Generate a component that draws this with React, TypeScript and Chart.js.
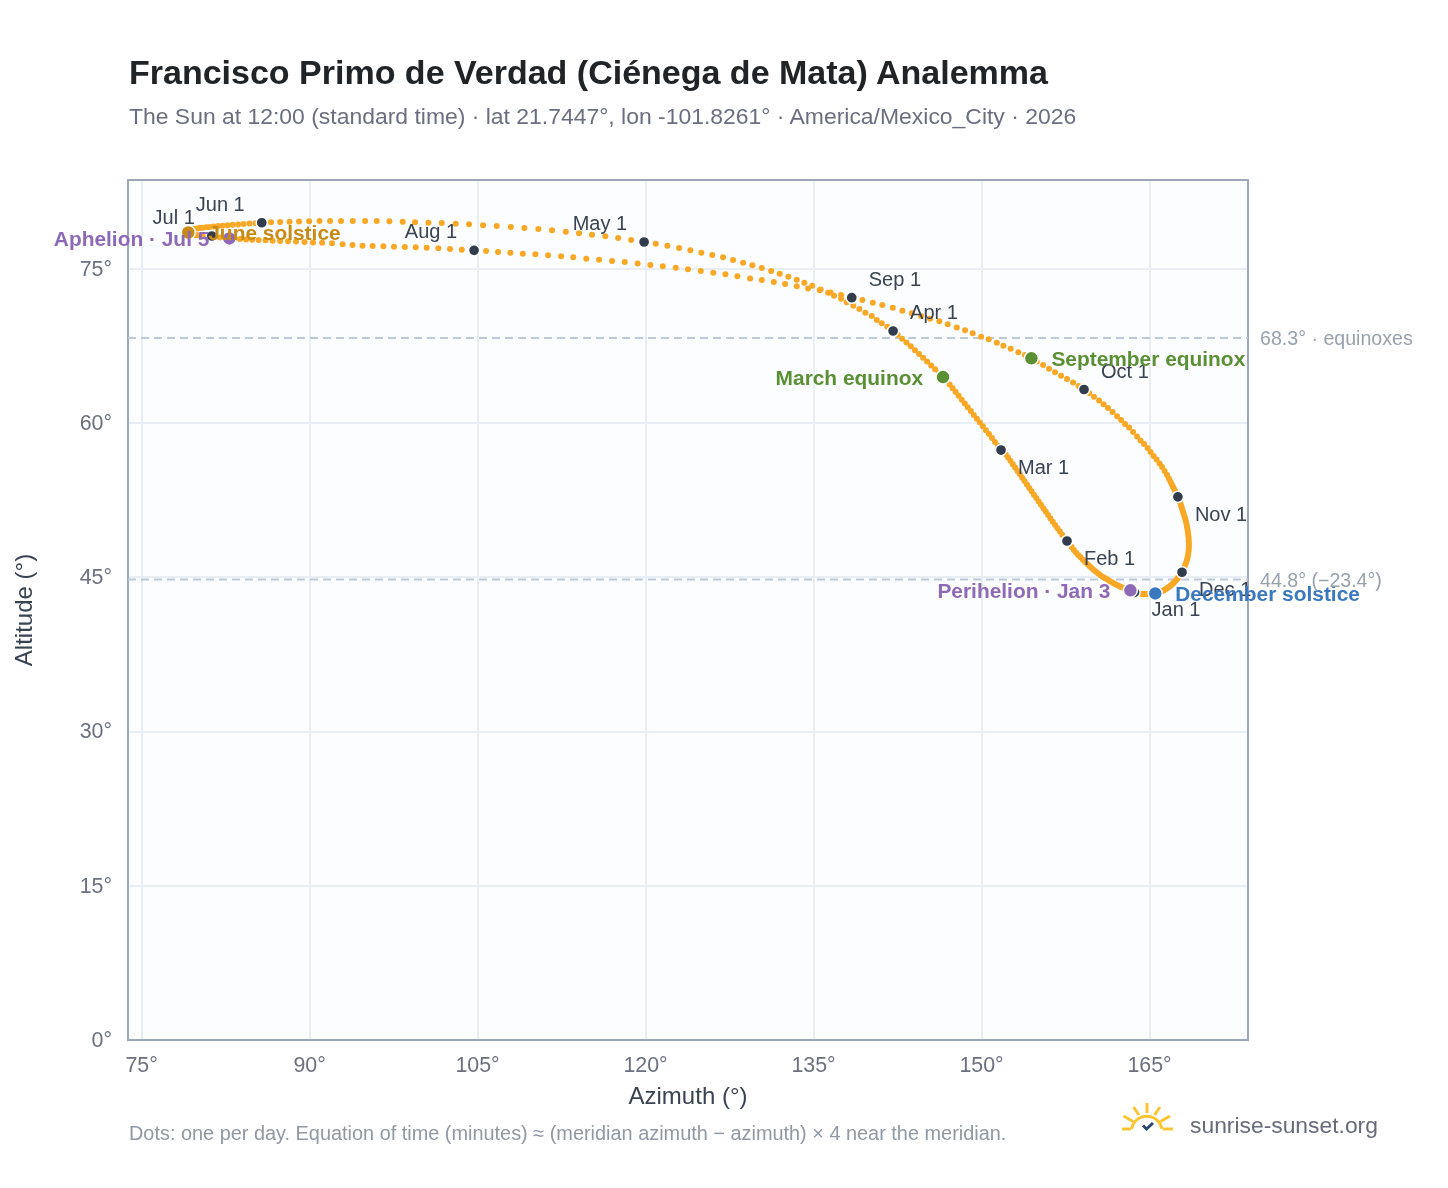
import React, { useEffect, useRef } from "react";
import { Chart, registerables } from "chart.js";

Chart.register(...registerables);

const azJan = [163.66,163.47,163.29,163.10,162.91,162.72,162.54,162.37,162.19,161.99,161.79,161.60,161.40,161.21,161.01,160.81,160.62,160.42,160.22,160.03,159.83,159.64,159.44,159.24,159.04,158.84,158.63,158.44,158.24,158.04,157.83];
const altJan = [43.55,43.65,43.74,43.83,43.91,43.98,44.05,44.11,44.21,44.32,44.44,44.55,44.68,44.81,44.94,45.06,45.21,45.37,45.54,45.72,45.91,46.11,46.30,46.50,46.71,46.95,47.18,47.41,47.67,47.96,48.25];
const azFeb = [157.63,157.42,157.20,156.99,156.78,156.57,156.36,156.15,155.94,155.73,155.52,155.31,155.10,154.89,154.68,154.47,154.26,154.05,153.84,153.63,153.42,153.21,153.00,152.79,152.58,152.37,152.16,151.95];
const altFeb = [48.54,48.85,49.16,49.47,49.78,50.10,50.42,50.74,51.07,51.40,51.73,52.06,52.39,52.72,53.05,53.38,53.71,54.04,54.37,54.70,55.03,55.36,55.69,56.02,56.35,56.67,56.99,57.20];
const azMar = [151.74,151.47,151.20,150.93,150.66,150.39,150.12,149.85,149.58,149.31,149.04,148.77,148.50,148.23,147.96,147.69,147.42,147.15,146.86,146.56,146.21,145.86,145.50,145.14,144.78,144.42,144.05,143.68,143.30,142.91,142.51];
const altMar = [57.39,57.78,58.17,58.56,58.94,59.32,59.70,60.07,60.44,60.81,61.18,61.55,61.92,62.29,62.66,63.03,63.40,63.77,64.13,64.49,64.87,65.25,65.62,66.00,66.37,66.74,67.11,67.48,67.85,68.22,68.60];
const azApr = [142.10,141.59,141.09,140.64,140.20,139.63,139.09,138.55,137.96,137.46,136.83,136.30,135.63,134.89,134.18,133.50,132.75,131.98,131.21,130.38,129.54,128.71,127.81,126.92,125.96,124.98,124.00,122.99,121.95,120.91];
const altApr = [68.97,69.39,69.72,70.04,70.43,70.75,71.11,71.43,71.76,72.11,72.40,72.69,73.01,73.37,73.67,73.96,74.25,74.54,74.81,75.10,75.36,75.61,75.88,76.14,76.36,76.59,76.82,77.04,77.27,77.46];
const azMay = [119.87,118.71,117.55,116.41,115.22,114.06,112.88,111.65,110.43,109.18,107.97,106.71,105.49,104.24,103.05,101.80,100.61,99.42,98.32,97.13,96.00,94.96,93.86,92.81,91.83,90.89,89.96,89.06,88.21,87.37,86.56];
const altMay = [77.63,77.82,78.02,78.18,78.34,78.47,78.63,78.76,78.89,78.99,79.09,79.18,79.25,79.35,79.41,79.48,79.50,79.54,79.60,79.64,79.67,79.67,79.67,79.67,79.67,79.67,79.65,79.63,79.60,79.57,79.54];
const azJun = [85.73,85.18,84.64,84.11,83.62,83.13,82.68,82.23,81.83,81.43,81.07,80.76,80.45,80.18,79.96,79.73,79.55,79.42,79.29,79.21,79.17,79.15,79.18,79.24,79.36,79.54,79.78,80.04,80.36,80.76];
const altJun = [79.50,79.46,79.42,79.38,79.34,79.30,79.26,79.22,79.18,79.13,79.09,79.06,79.02,78.99,78.95,78.92,78.88,78.83,78.77,78.72,78.55,78.52,78.48,78.44,78.40,78.36,78.32,78.29,78.25,78.23];
const azJul = [81.27,81.61,82.01,82.41,82.84,83.30,83.79,84.33,84.87,85.45,86.07,86.70,87.37,88.08,88.79,89.55,90.31,91.12,92.01,92.95,93.84,94.73,95.63,96.59,97.54,98.50,99.48,100.46,101.50,102.54,103.59];
const altJul = [78.21,78.13,78.07,78.02,77.98,77.95,77.92,77.88,77.85,77.82,77.79,77.76,77.73,77.70,77.68,77.63,77.59,77.56,77.50,77.40,77.33,77.27,77.24,77.21,77.17,77.15,77.11,77.07,77.01,76.95,76.88];
const azAug = [104.69,105.76,106.83,107.93,109.04,110.16,111.30,112.46,113.55,114.71,115.85,117.01,118.14,119.29,120.43,121.54,122.70,123.79,124.93,126.05,127.13,128.20,129.33,130.38,131.45,132.46,133.50,134.51,135.55,136.52,137.46];
const altAug = [76.82,76.75,76.65,76.59,76.49,76.43,76.33,76.24,76.14,76.00,75.91,75.78,75.68,75.53,75.39,75.26,75.13,74.97,74.81,74.64,74.48,74.29,74.09,73.93,73.74,73.54,73.32,73.10,72.93,72.71,72.47];
const azSep = [138.41,139.36,140.29,141.14,142.07,142.93,143.77,144.60,145.40,146.23,146.98,147.79,148.53,149.21,149.96,150.64,151.36,151.95,152.60,153.29,153.88,154.45,154.93,155.49,156.03,156.56,157.10,157.63,158.17,158.66];
const altSep = [72.21,71.98,71.72,71.50,71.24,70.94,70.69,70.43,70.17,69.91,69.62,69.31,69.04,68.75,68.41,68.16,67.83,67.54,67.25,66.90,66.63,66.31,66.00,65.66,65.30,64.95,64.62,64.30,63.96,63.62];
const azOct = [159.15,159.60,160.04,160.49,160.89,161.29,161.70,162.10,162.46,162.81,163.17,163.53,163.88,164.20,164.51,164.83,165.09,165.36,165.63,165.89,166.12,166.34,166.56,166.72,166.86,166.98,167.09,167.19,167.28,167.37,167.46];
const altOct = [63.28,62.94,62.57,62.21,61.85,61.48,61.09,60.68,60.31,59.92,59.58,59.14,58.71,58.32,57.98,57.59,57.20,56.81,56.47,56.08,55.74,55.35,54.96,54.62,54.33,54.07,53.82,53.60,53.40,53.21,53.02];
const azNov = [167.53,167.61,167.69,167.77,167.84,167.91,167.98,168.05,168.13,168.19,168.25,168.30,168.34,168.38,168.42,168.45,168.47,168.49,168.50,168.51,168.51,168.50,168.48,168.45,168.42,168.36,168.30,168.22,168.13,168.02];
const altNov = [52.84,52.63,52.38,52.14,51.90,51.65,51.41,51.17,50.92,50.68,50.44,50.19,49.95,49.71,49.47,49.22,48.98,48.74,48.49,48.25,48.01,47.76,47.52,47.28,47.03,46.79,46.55,46.30,46.06,45.82];
const azDec = [167.90,167.79,167.68,167.56,167.46,167.34,167.21,167.10,166.97,166.85,166.72,166.59,166.46,166.33,166.20,166.08,165.94,165.82,165.69,165.59,165.51,165.35,165.19,165.04,164.88,164.73,164.57,164.42,164.26,164.10,163.94];
const altDec = [45.50,45.36,45.18,45.02,44.84,44.69,44.55,44.42,44.29,44.17,44.07,43.97,43.87,43.78,43.71,43.64,43.58,43.53,43.49,43.46,43.44,43.42,43.41,43.39,43.39,43.39,43.39,43.39,43.41,43.44,43.48];

const azByMonth = [azJan, azFeb, azMar, azApr, azMay, azJun, azJul, azAug, azSep, azOct, azNov, azDec];
const altByMonth = [altJan, altFeb, altMar, altApr, altMay, altJun, altJul, altAug, altSep, altOct, altNov, altDec];

const monthLabels = ["Jan 1", "Feb 1", "Mar 1", "Apr 1", "May 1", "Jun 1", "Jul 1", "Aug 1", "Sep 1", "Oct 1", "Nov 1", "Dec 1"];
const xTicks = [75, 90, 105, 120, 135, 150, 165];
const yTicks = [0, 15, 30, 45, 60, 75];
const equinoxAltitude = 68.3;
const solsticeAltitude = 44.8;

const title = "Francisco Primo de Verdad (Ciénega de Mata) Analemma";
const subtitle = "The Sun at 12:00 (standard time) · lat 21.7447°, lon -101.8261° · America/Mexico_City · 2026";
const footnote = "Dots: one per day. Equation of time (minutes) ≈ (meridian azimuth − azimuth) × 4 near the meridian.";
const brand = "sunrise-sunset.org";

// month index and day of month of each highlighted date
const eventNames = ["June solstice", "December solstice", "March equinox", "September equinox", "Perihelion · Jan 3", "Aphelion · Jul 5"];
const eventMonths = [5, 11, 2, 8, 0, 6];
const eventDays = [21, 21, 20, 22, 3, 5];

const FONT = '"Liberation Sans", Arial, Helvetica, sans-serif';
const eventStyle = [
  { color: "#c98a14", side: 1 },
  { color: "#3a78bf", side: 1 },
  { color: "#5a9033", side: -1 },
  { color: "#5a9033", side: 1 },
  { color: "#8e69b5", side: -1 },
  { color: "#8e69b5", side: -1 },
];
// [horizontal, vertical] side of each month label relative to its marker
const monthLabelSides = [[1, 1], [1, 1], [1, 1], [1, -1], [-1, -1], [-1, -1], [-1, -1], [-1, -1], [1, -1], [1, -1], [1, 1], [1, 1]];

const dailyPoints = azByMonth.flatMap((az, m) => az.map((x, d) => ({ x, y: altByMonth[m][d] })));
const monthPoints = azByMonth.map((az, m) => ({ x: az[0], y: altByMonth[m][0] }));
const eventPoints = eventNames.map((_, i) => ({
  x: azByMonth[eventMonths[i]][eventDays[i] - 1],
  y: altByMonth[eventMonths[i]][eventDays[i] - 1],
}));

const X_MIN = 73.79;
const X_MAX = 173.79;
const Y_MIN = 0;
const Y_MAX = 83.66;

const framePlugin = {
  id: "frame",
  beforeDraw(chart: any) {
    const { ctx, chartArea: a } = chart;
    ctx.save();
    ctx.fillStyle = "#fbfdff";
    ctx.fillRect(a.left, a.top, a.right - a.left, a.bottom - a.top);
    ctx.restore();
  },
  beforeDatasetsDraw(chart: any) {
    const { ctx, chartArea: a } = chart;
    ctx.save();
    ctx.strokeStyle = "#9ba8b8";
    ctx.lineWidth = 2;
    ctx.strokeRect(a.left, a.top, a.right - a.left, a.bottom - a.top);
    ctx.restore();
  },
};

const labelPlugin = {
  id: "pointLabels",
  afterDatasetsDraw(chart: any) {
    const { ctx, scales } = chart;
    const x = scales.x;
    const y = scales.y;
    ctx.save();
    ctx.textBaseline = "middle";

    ctx.font = `20px ${FONT}`;
    ctx.fillStyle = "#3a4352";
    monthPoints.forEach((p, i) => {
      const [h, v] = monthLabelSides[i];
      ctx.textAlign = h > 0 ? "left" : "right";
      ctx.fillText(monthLabels[i], x.getPixelForValue(p.x) + h * 17, y.getPixelForValue(p.y) + v * 18 + 0.5);
    });

    ctx.font = `bold 20.9px ${FONT}`;
    eventPoints.forEach((p, i) => {
      const st = eventStyle[i];
      ctx.fillStyle = st.color;
      ctx.textAlign = st.side > 0 ? "left" : "right";
      ctx.fillText(eventNames[i], x.getPixelForValue(p.x) + st.side * 20, y.getPixelForValue(p.y) + 2);
    });

    ctx.font = `19.6px ${FONT}`;
    ctx.fillStyle = "#98a1ac";
    ctx.textAlign = "left";
    ctx.fillText(`${equinoxAltitude}° · equinoxes`, x.right + 12, y.getPixelForValue(equinoxAltitude) + 2);
    ctx.fillText(`${solsticeAltitude}° (−23.4°)`, x.right + 12, y.getPixelForValue(solsticeAltitude) + 2);
    ctx.restore();
  },
};

export default function App() {
  const ref = useRef<HTMLCanvasElement | null>(null);
  useEffect(() => {
    if (!ref.current) return;
    const dashed = { type: "line", borderColor: "#bdc9d7", borderWidth: 2, borderDash: [8, 5], pointRadius: 0, order: 5 };
    const chart = new Chart(ref.current, {
      type: "scatter",
      data: {
        datasets: [
          { ...dashed, label: "equinoxes", data: [{ x: X_MIN, y: equinoxAltitude }, { x: X_MAX, y: equinoxAltitude }] },
          { ...dashed, label: "solstice", data: [{ x: X_MIN, y: solsticeAltitude }, { x: X_MAX, y: solsticeAltitude }] },
          { label: "Daily sun", data: dailyPoints, pointRadius: 3, pointBorderWidth: 0, backgroundColor: "#f9a825", order: 4 },
          { label: "Month starts", data: monthPoints, pointRadius: 5.6, pointBorderWidth: 1.5, pointBorderColor: "#ffffff", backgroundColor: "#333c4c", order: 3 },
          { label: "Events", data: eventPoints, pointRadius: 7, pointBorderWidth: 1.5, pointBorderColor: "#ffffff", backgroundColor: eventStyle.map((s) => s.color), order: 2 },
        ],
      } as any,
      options: {
        responsive: false,
        animation: false,
        layout: { padding: { left: 0, top: 180, right: 200, bottom: 0 } },
        plugins: { legend: { display: false }, tooltip: { enabled: false }, title: { display: false } },
        scales: {
          x: {
            type: "linear",
            min: X_MIN,
            max: X_MAX,
            afterFit(s: any) { s.height = 148; },
            afterBuildTicks(s: any) { s.ticks = xTicks.map((value) => ({ value })); },
            grid: { color: "#e9eef4", lineWidth: 2, drawTicks: false },
            border: { display: false },
            ticks: { padding: 13, autoSkip: false, maxRotation: 0, color: "#6b7080", font: { family: FONT, size: 21.4 }, callback: (v: any) => `${v}°` },
            title: { display: true, text: "Azimuth (°)", color: "#3a4352", font: { family: FONT, size: 24 }, padding: { top: 0, bottom: 76.6 } },
          },
          y: {
            type: "linear",
            min: Y_MIN,
            max: Y_MAX,
            afterFit(s: any) { s.width = 128; },
            afterBuildTicks(s: any) { s.ticks = yTicks.map((value) => ({ value })); },
            grid: { color: "#e9eef4", lineWidth: 2, drawTicks: false },
            border: { display: false },
            ticks: { padding: 16, labelOffset: 1, autoSkip: false, color: "#6b7080", font: { family: FONT, size: 21.4 }, callback: (v: any) => `${v}°` },
            title: { display: true, text: "Altitude (°)", color: "#3a4352", font: { family: FONT, size: 24 }, padding: { top: 11.4, bottom: 0 } },
          },
        },
      } as any,
      plugins: [framePlugin, labelPlugin],
    } as any);
    return () => chart.destroy();
  }, []);

  const abs = (left: number, top: number): React.CSSProperties => ({ position: "absolute", left, top, whiteSpace: "nowrap", fontFamily: FONT });
  return (
    <div style={{ position: "absolute", left: 0, top: 0, width: 1448, height: 1188, background: "#ffffff", overflow: "hidden" }}>
      <canvas ref={ref} width={1448} height={1188} style={{ display: "block", position: "absolute", left: 0, top: 0 }} />
      <div style={{ ...abs(129, 51), fontSize: 34, lineHeight: "42px", fontWeight: 700, color: "#212427" }}>{title}</div>
      <div style={{ ...abs(129, 102), fontSize: 22.93, lineHeight: "28px", color: "#6b6e80" }}>{subtitle}</div>
      <div style={{ ...abs(129, 1121), fontSize: 19.9, lineHeight: "24px", color: "#8f98a3" }}>{footnote}</div>
      <div style={{ ...abs(1190, 1110), fontSize: 22.85, lineHeight: "30px", color: "#666a7c" }}>{brand}</div>
      <svg style={{ position: "absolute", left: 1120, top: 1100 }} width={56} height={38} viewBox="0 0 56 38" fill="none">
        <g stroke="#fbc531" strokeWidth={3} strokeLinecap="butt">
          <path d="M11.5 29 A15.5 15.5 0 0 1 42 29" />
          <path d="M2 29 H11" />
          <path d="M43 29 H53" />
          <path d="M27 3 V13" />
          <path d="M13.5 7 L19 15" />
          <path d="M40 7 L34.5 15" />
          <path d="M3.5 16 L13 21.5" />
          <path d="M50 16 L40.5 21.5" />
        </g>
        <path d="M23 25.5 L26.5 29 L33 23" stroke="#2c4a6e" strokeWidth={3} />
      </svg>
    </div>
  );
}
